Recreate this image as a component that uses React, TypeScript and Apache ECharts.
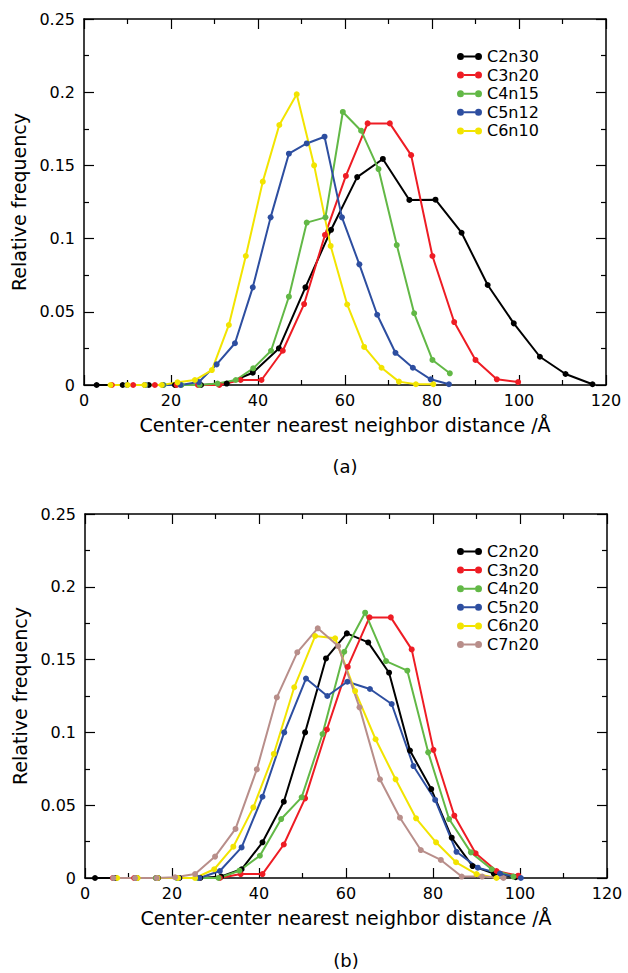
import React, { useEffect, useRef } from "react";
import * as echarts from "echarts";

// ---------- Panel (a) ----------
const A_NAMES = ["C2n30", "C3n20", "C4n15", "C5n12", "C6n10"];
const A_C2N30_X = [2.9, 8.9, 14.9, 20.9, 26.9, 32.8, 38.8, 44.8, 50.9, 56.8, 62.8, 68.7, 74.8, 80.8, 86.8, 92.8, 98.8, 104.8, 110.7, 116.9];
const A_C2N30_Y = [0, 0, 0, 0, 0, 0.001, 0.0084, 0.025, 0.0667, 0.106, 0.142, 0.1544, 0.1264, 0.1266, 0.104, 0.0683, 0.0421, 0.0193, 0.0075, 0.0005];
const A_C3N20_X = [6.4, 11.3, 16.3, 21.3, 26.2, 31.1, 36.0, 40.8, 45.7, 50.6, 55.4, 60.2, 65.2, 70.3, 75.2, 80.1, 85.1, 90.0, 94.9, 99.8];
const A_C3N20_Y = [0, 0, 0, 0, 0, 0, 0.0034, 0.0034, 0.0234, 0.0553, 0.1025, 0.1428, 0.1787, 0.1787, 0.157, 0.0881, 0.043, 0.0171, 0.0039, 0.002];
const A_C4N15_X = [14.1, 18.3, 22.4, 26.6, 30.7, 34.9, 38.9, 43.0, 47.1, 51.2, 55.5, 59.5, 63.7, 67.7, 71.9, 75.9, 80.1, 84.1];
const A_C4N15_Y = [0, 0, 0, 0, 0.001, 0.0034, 0.0114, 0.0234, 0.0603, 0.1109, 0.1145, 0.1865, 0.1737, 0.1475, 0.0956, 0.049, 0.0171, 0.008];
const A_C5N12_X = [9.9, 14.0, 18.1, 22.2, 26.4, 30.5, 34.7, 38.8, 42.9, 47.1, 51.2, 55.3, 59.3, 63.3, 67.4, 71.6, 75.6, 79.7, 83.9];
const A_C5N12_Y = [0, 0, 0, 0, 0.002, 0.0141, 0.0285, 0.0667, 0.1145, 0.158, 0.165, 0.1696, 0.1145, 0.0824, 0.048, 0.022, 0.0118, 0.0039, 0.0005];
const A_C6N10_X = [6.1, 10.0, 13.9, 17.9, 21.5, 25.5, 29.4, 33.3, 37.2, 41.1, 44.9, 48.9, 52.9, 56.7, 60.5, 64.4, 68.4, 72.4, 76.3, 80.3];
const A_C6N10_Y = [0, 0, 0, 0, 0.0018, 0.0034, 0.0102, 0.041, 0.0881, 0.1389, 0.1776, 0.1986, 0.15, 0.095, 0.055, 0.026, 0.0118, 0.0023, 0.0005, 0.0005];

// ---------- Panel (b) ----------
const B_NAMES = ["C2n20", "C3n20", "C4n20", "C5n20", "C6n20", "C7n20"];
const B_C2N20_X = [2.3, 7.1, 12.0, 16.8, 21.7, 26.5, 31.3, 36.0, 40.8, 45.7, 50.6, 55.4, 60.2, 65.1, 69.9, 74.7, 79.6, 84.3, 89.1, 94.0, 99.0];
const B_C2N20_Y = [0, 0, 0, 0, 0, 0, 0.001, 0.006, 0.0245, 0.0524, 0.1, 0.1508, 0.168, 0.1618, 0.141, 0.0875, 0.0611, 0.0277, 0.0082, 0.003, 0.0005];
const B_C3N20_X = [6.4, 11.3, 16.3, 21.3, 26.2, 31.0, 35.8, 40.8, 45.7, 50.6, 55.6, 60.4, 65.4, 70.3, 75.1, 80.1, 84.9, 89.8, 94.6, 99.6];
const B_C3N20_Y = [0, 0, 0, 0, 0, 0, 0.0027, 0.0027, 0.023, 0.0547, 0.102, 0.145, 0.179, 0.179, 0.157, 0.088, 0.0428, 0.017, 0.0048, 0.0016];
const B_C4N20_X = [16.3, 21.1, 25.9, 30.7, 35.5, 40.2, 45.1, 49.8, 54.6, 59.6, 64.4, 69.2, 74.1, 78.9, 83.7, 88.7, 93.5, 98.5];
const B_C4N20_Y = [0, 0, 0, 0, 0.005, 0.0153, 0.0405, 0.0554, 0.0989, 0.1554, 0.1822, 0.149, 0.1424, 0.0863, 0.0405, 0.0176, 0.006, 0.001];
const B_C5N20_X = [6.6, 11.6, 16.5, 21.5, 26.3, 31.0, 36.0, 40.8, 45.8, 50.8, 55.7, 60.3, 65.5, 70.5, 75.5, 80.5, 85.4, 90.3, 95.4, 100.2];
const B_C5N20_Y = [0, 0, 0, 0, 0, 0.0048, 0.021, 0.0558, 0.1, 0.137, 0.125, 0.1348, 0.1298, 0.1195, 0.0769, 0.0536, 0.018, 0.0071, 0.003, 0];
const B_C6N20_X = [7.4, 12.1, 16.7, 21.4, 25.3, 29.7, 34.1, 38.7, 43.4, 48.1, 52.9, 57.5, 62.1, 66.8, 71.4, 76.1, 80.7, 85.3, 90.0, 94.6];
const B_C6N20_Y = [0, 0, 0, 0, 0, 0.006, 0.0215, 0.0485, 0.0852, 0.131, 0.1662, 0.1646, 0.1284, 0.0953, 0.0678, 0.041, 0.0245, 0.0108, 0.0027, 0];
const B_C7N20_X = [6.5, 11.5, 16.5, 20.7, 25.3, 29.9, 34.6, 39.5, 44.1, 48.8, 53.5, 58.2, 63.1, 67.8, 72.4, 77.2, 81.8, 86.6, 91.3, 96.2];
const B_C7N20_Y = [0, 0, 0, 0.0005, 0.0027, 0.0147, 0.0337, 0.0746, 0.124, 0.155, 0.1715, 0.1593, 0.1172, 0.0678, 0.0414, 0.0192, 0.0124, 0.001, 0.001, 0];

const COLORS = ["#000000", "#ee1c24", "#62b846", "#2d4ea0", "#f2e400", "#b88e8a"];

const X_TITLE = "Center-center nearest neighbor distance /Å";
const Y_TITLE = "Relative frequency";
const PANEL_LABELS = ["(a)", "(b)"];
const X_MIN = 0, X_MAX = 120, X_STEP = 20;
const Y_MIN = 0, Y_MAX = 0.25, Y_STEP = 0.05;

const FONT = "DejaVu Sans";

const pairs = (xs: number[], ys: number[]) => xs.map((x, i) => [x, ys[i]]);

const LEGEND_ICON =
  "path://M0,3.5a3.5,3.5 0 1,0 7,0a3.5,3.5 0 1,0 -7,0Z M18,3.5a3.5,3.5 0 1,0 7,0a3.5,3.5 0 1,0 -7,0Z M7,2.5H18V4.5H7Z";

export default function App() {
  const ref = useRef<HTMLDivElement>(null);
  useEffect(() => {
    if (!ref.current) return;
    const chart = echarts.init(ref.current, undefined, { renderer: "svg" });

    const grids = [
      { left: 84, top: 19, width: 522, height: 366 },
      { left: 85, top: 514, width: 522, height: 364 },
    ];

    const axisLine = { show: true, onZero: false, lineStyle: { color: "#000", width: 1.5 } };
    const axisTick = { show: true, inside: true, length: 10, lineStyle: { color: "#000", width: 1.2 } };
    const minorTick = { show: true, splitNumber: 2, length: 5, lineStyle: { color: "#000", width: 1.2 } };

    const xAxes: any[] = [];
    const yAxes: any[] = [];
    grids.forEach((_, gi) => {
      xAxes.push({
        type: "value", gridIndex: gi, position: "bottom", min: X_MIN, max: X_MAX, interval: X_STEP,
        axisLine, axisTick, minorTick, splitLine: { show: false }, minorSplitLine: { show: false },
        axisLabel: { color: "#000", fontSize: 16, fontFamily: FONT, margin: 7 },
        name: X_TITLE, nameLocation: "middle", nameGap: 30,
        nameTextStyle: { color: "#000", fontSize: 19, fontFamily: FONT },
      });
      xAxes.push({
        type: "value", gridIndex: gi, position: "top", min: X_MIN, max: X_MAX, interval: X_STEP,
        axisLine, axisTick, minorTick, splitLine: { show: false }, minorSplitLine: { show: false },
        axisLabel: { show: false },
      });
      yAxes.push({
        type: "value", gridIndex: gi, position: "left", min: Y_MIN, max: Y_MAX, interval: Y_STEP,
        axisLine, axisTick, minorTick, splitLine: { show: false }, minorSplitLine: { show: false },
        axisLabel: {
          color: "#000", fontSize: 16, fontFamily: FONT, margin: 9,
          formatter: (v: number) => String(+v.toFixed(2)),
        },
        name: Y_TITLE, nameLocation: "middle", nameGap: 50,
        nameTextStyle: { color: "#000", fontSize: 19, fontFamily: FONT },
      });
      yAxes.push({
        type: "value", gridIndex: gi, position: "right", min: Y_MIN, max: Y_MAX, interval: Y_STEP,
        axisLine, axisTick, minorTick, splitLine: { show: false }, minorSplitLine: { show: false },
        axisLabel: { show: false },
      });
    });

    const mk = (name: string, xs: number[], ys: number[], color: string, gi: number) => ({
      type: "line", name, data: pairs(xs, ys), xAxisIndex: gi * 2, yAxisIndex: gi * 2,
      symbol: "circle", symbolSize: 6, showSymbol: true,
      itemStyle: { color }, lineStyle: { color, width: 2 },
    });

    const series = [
      mk("C2n30", A_C2N30_X, A_C2N30_Y, COLORS[0], 0),
      mk("C3n20", A_C3N20_X, A_C3N20_Y, COLORS[1], 0),
      mk("C4n15", A_C4N15_X, A_C4N15_Y, COLORS[2], 0),
      mk("C5n12", A_C5N12_X, A_C5N12_Y, COLORS[3], 0),
      mk("C6n10", A_C6N10_X, A_C6N10_Y, COLORS[4], 0),
      mk("C2n20", B_C2N20_X, B_C2N20_Y, COLORS[0], 1),
      mk("C3n20", B_C3N20_X, B_C3N20_Y, COLORS[1], 1),
      mk("C4n20", B_C4N20_X, B_C4N20_Y, COLORS[2], 1),
      mk("C5n20", B_C5N20_X, B_C5N20_Y, COLORS[3], 1),
      mk("C6n20", B_C6N20_X, B_C6N20_Y, COLORS[4], 1),
      mk("C7n20", B_C7N20_X, B_C7N20_Y, COLORS[5], 1),
    ];

    const legendBase = {
      orient: "vertical", icon: LEGEND_ICON, itemWidth: 25, itemHeight: 7, itemGap: 1.6,
      padding: 0, selectedMode: false,
      textStyle: { color: "#000", fontSize: 16, fontFamily: FONT, lineHeight: 17 },
    };

    chart.setOption({
      animation: false,
      backgroundColor: "#fff",
      textStyle: { fontFamily: FONT },
      grid: grids,
      xAxis: xAxes,
      yAxis: yAxes,
      series,
      legend: [
        { ...legendBase, data: A_NAMES, left: 457, top: 48 },
        { ...legendBase, data: B_NAMES, left: 457, top: 543 },
      ],
      graphic: [
        { type: "text", x: 345, y: 466, style: { text: PANEL_LABELS[0], fill: "#000", font: `18px "${FONT}"`, textAlign: "center", textVerticalAlign: "middle" } },
        { type: "text", x: 346, y: 960, style: { text: PANEL_LABELS[1], fill: "#000", font: `18px "${FONT}"`, textAlign: "center", textVerticalAlign: "middle" } },
      ],
    });
    return () => chart.dispose();
  }, []);
  return <div ref={ref} style={{ position: "absolute", left: 0, top: 0, width: 628, height: 973 }} />;
}
